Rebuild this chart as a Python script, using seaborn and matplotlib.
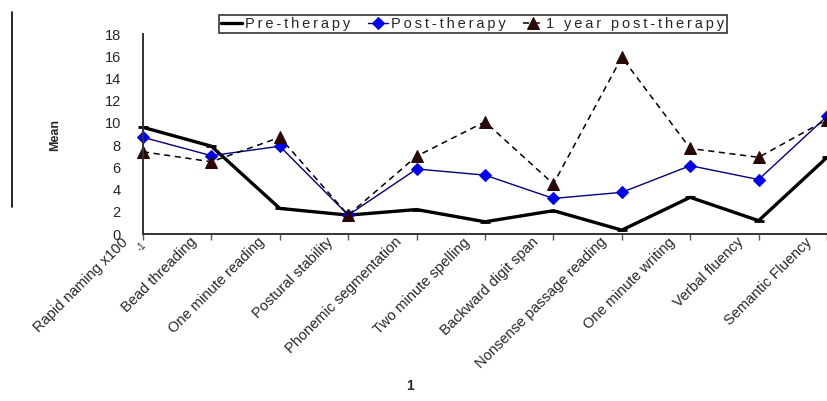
import pandas as pd
import numpy as np
import matplotlib.pyplot as plt
import matplotlib.transforms as mtransforms
import seaborn as sns
from matplotlib.lines import Line2D

# ---- data ----
tests = ["Rapid naming x100", "Bead threading", "One minute reading",
         "Postural stability", "Phonemic segmentation", "Two minute spelling",
         "Backward digit span", "Nonsense passage reading", "One minute writing",
         "Verbal fluency", "Semantic Fluency"]
pre_therapy = [9.6, 7.9, 2.3, 1.7, 2.2, 1.1, 2.1, 0.35, 3.3, 1.2, 6.9]
post_therapy = [8.7, 7.05, 7.9, 1.7, 5.85, 5.3, 3.2, 3.75, 6.15, 4.9, 10.6]
one_year = [7.4, 6.5, 8.7, 1.7, 7.0, 10.1, 4.5, 15.9, 7.7, 6.9, 10.3]
y_ticks = [0, 2, 4, 6, 8, 10, 12, 14, 16, 18]
series_names = ["Pre-therapy", "Post-therapy", "1 year post-therapy"]

df = pd.DataFrame({"pos": np.arange(len(tests)), "test": tests,
                   series_names[0]: pre_therapy, series_names[1]: post_therapy,
                   series_names[2]: one_year})


def spaced(s):
    # the legend text in the original is tracked out wide
    return "\u2009".join(s)


sns.set_style("white")
plt.rcParams["font.family"] = ["Liberation Sans", "DejaVu Sans"]

fig = plt.figure(figsize=(8.27, 4.01), dpi=100)
ax = fig.add_axes([143 / 827, (401 - 234) / 401, 1 - 143 / 827, 200 / 401])

sns.lineplot(data=df, x="pos", y=series_names[0], ax=ax, color="black", lw=2.4,
             marker="_", markersize=7, mew=2, mec="black",
             label=spaced(series_names[0]), clip_on=False)
sns.lineplot(data=df, x="pos", y=series_names[1], ax=ax, color="#000080", lw=1.0,
             marker="D", markersize=6.5, mfc="#0000ee", mec="#0000ee",
             label=spaced(series_names[1]), clip_on=False)
sns.lineplot(data=df, x="pos", y=series_names[2], ax=ax, color="black",
             lw=1.1, ls=(0, (4, 3)), marker="^", markersize=8, mfc="#2a0808",
             mec="#2a0808", label=spaced(series_names[2]), clip_on=False)

ax.set_xlim(0, 684 / 68.5)
ax.set_ylim(0, 18)
ax.set_yticks(y_ticks)
ax.set_xticks(df["pos"])
ax.set_xticklabels([])
# category labels sit a little left of their tick in the original
shift = mtransforms.ScaledTranslation(-17 / 100, -6 / 100, fig.dpi_scale_trans)
for pos, name in zip(df["pos"], df["test"]):
    ax.text(pos, 0, name, transform=ax.get_xaxis_transform() + shift,
            rotation=45, ha="right", va="center", rotation_mode="anchor",
            fontsize=10.5, clip_on=False)
ax.tick_params(axis="y", length=0, pad=16, labelsize=10.5)
ax.tick_params(axis="x", length=4, width=1, color="#555555", direction="out",
               bottom=True)
ax.set_xlabel("")
ax.set_ylabel("")
sns.despine(ax=ax)
for side in ["left", "bottom"]:
    ax.spines[side].set_color("#333333")
    ax.spines[side].set_linewidth(1.4)

# stray superscript of the first category label
fig.text(141 / 827, 1 - 247 / 401, "-1", rotation=45, fontsize=7,
         ha="center", va="center")
fig.text(55 / 827, 1 - 135 / 401, "Mean", rotation=90, fontsize=9,
         fontweight="bold", ha="center", va="center")
fig.text(410 / 827, 1 - 386 / 401, "1", fontsize=10, fontweight="bold",
         ha="center", va="center")
fig.add_artist(Line2D([12 / 827, 12 / 827], [1 - 12 / 401, 1 - 207 / 401],
                      color="black", lw=1.2))

leg = ax.legend(loc="center", bbox_to_anchor=(473 / 827, 1 - 24 / 401),
                bbox_transform=fig.transFigure, ncol=3, frameon=True,
                fancybox=False, edgecolor="black", fontsize=10.5,
                handlelength=1.4, handletextpad=0.2, columnspacing=1.2,
                borderpad=0.15, borderaxespad=0)
leg.get_frame().set_linewidth(1.2)

fig.savefig("out.png", dpi=100)
